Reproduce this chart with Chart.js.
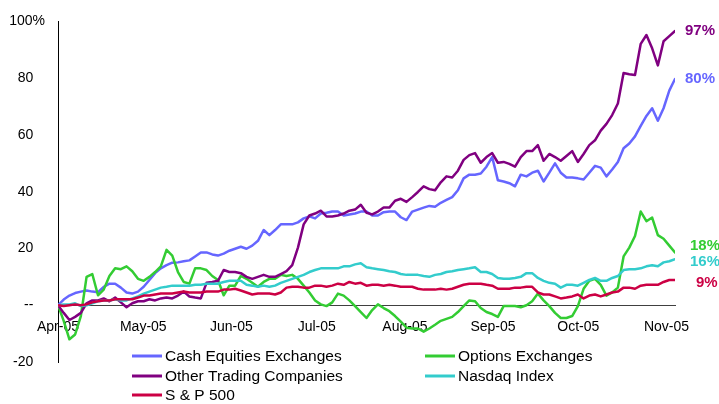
<!DOCTYPE html>
<html><head><meta charset="utf-8">
<script src="https://cdn.jsdelivr.net/npm/chart.js@4.4.1/dist/chart.umd.min.js"></script>
<style>html,body{margin:0;padding:0;background:#fff;}canvas{display:block;}</style>
</head><body>
<canvas id="c" width="719" height="404"></canvas>
<script>
// ---- axis / category data ----
const monthLabels = ['Apr-05','May-05','Jun-05','Jul-05','Aug-05','Sep-05','Oct-05','Nov-05'];
const monthDays   = [0, 30, 61, 91, 122, 153, 183, 214];   // days since 1-Apr-05
const spanDays    = 217;                                    // 1-Apr-05 .. 4-Nov-05
const yTickValues = [-20, 0, 20, 40, 60, 80, 100];
const seriesNames = ['Cash Equities Exchanges','Options Exchanges','Other Trading Companies','Nasdaq Index','S & P 500'];
const endLabels   = ['80%','18%','97%','16%','9%'];

// ---- series values (% change since April 2005), sampled evenly across the period ----
const cashEquities = [
  0, 2, 3.4, 4.3, 4.8, 5.2, 4.8, 4.6, 6.5, 7.6,
  7.6, 6.2, 4.5, 4.1, 4.8, 6.5, 8.9, 11.3, 13, 14.1,
  15, 15.1, 15.5, 15.8, 17.2, 18.6, 18.6, 17.9, 17.5, 18.2,
  19.2, 19.9, 20.6, 19.9, 21, 22.7, 26.5, 24.7, 26.5, 28.5,
  28.5, 28.5, 29.2, 30.6, 31.3, 30.6, 32.3, 32.6, 33, 33,
  31.6, 32, 32.3, 33, 33, 31.6, 31.6, 32.8, 33, 33,
  31, 30, 33, 33.7, 34.4, 35, 34.7, 36.1, 37.1, 38.1,
  40.5, 44.7, 46, 46, 46.4, 48.8, 52.2, 44, 43.6, 43,
  41.9, 46, 45.4, 46.7, 47.4, 43.6, 46.7, 50, 46.7, 45,
  45, 44.7, 44.3, 46.7, 49.1, 48.5, 45.4, 47.8, 50.5, 55.3,
  57, 59.5, 63.2, 66.7, 69.4, 65, 69.4, 75.6, 79.7
];
const optionsExchanges = [
  0, -5.5, -12, -10.3, -3.8, 10, 11, 3.5, 5.5, 10.3,
  13, 12.7, 13.7, 12, 9.3, 8.6, 10, 11.7, 13.7, 19.5,
  17.5, 11.7, 8.2, 7.6, 13, 13, 12.4, 10.3, 8.9, 3.5,
  6.9, 6.9, 10.3, 9.3, 7.9, 6.5, 8.2, 9.3, 9.3, 10.7,
  10.3, 10.7, 9.3, 6.9, 4.5, 1.7, 0.3, -0.3, 1, 4.1,
  3.4, 1.7, -0.3, -2.4, -4.5, -1.7, 0.3, -1, -2.1, -3.8,
  -5.8, -7.9, -8.2, -8.2, -9.3, -8.2, -6.9, -5.5, -4.8, -4.1,
  -2.4, -0.3, 1.7, 1.4, -1, -2.4, -3.1, -4.1, -0.3, -0.3,
  -0.3, -0.7, 0, 1.4, 4.1, 1.7, -0.3, -2.7, -4.5, -4.5,
  -3.8, -0.3, 5.8, 8.6, 9.3, 7.2, 3.4, 4.5, 6.2, 17.2,
  20.3, 24.4, 33, 29.6, 30.9, 24.7, 23.4, 21, 18.6
];
const otherTrading = [
  0, -2.7, -5.2, -4.1, -2.7, 0.7, 1.7, 1.7, 2.4, 1.4,
  2.7, 1, -0.7, 0.7, 1.4, 1.4, 2.1, 1.7, 2.4, 2.7,
  2.4, 3.4, 4.8, 3.1, 2.7, 2.4, 7.9, 8.2, 8.6, 12.4,
  11.7, 11.7, 11.3, 10, 9.3, 10, 10.7, 10, 10, 11,
  12, 14.1, 20.3, 28.5, 31.6, 32.3, 33.3, 31.3, 31.3, 31.6,
  32.3, 33.3, 33.7, 35.4, 32.6, 32, 33, 34.4, 34.4, 36.8,
  37.5, 36.4, 38.1, 39.9, 41.9, 40.9, 40.5, 43.3, 45.4, 45,
  47.4, 51.2, 52.9, 53.6, 50.2, 52.2, 53.6, 50.2, 50.5, 49.8,
  48.8, 52.2, 54.3, 54.3, 56.4, 50.9, 53.3, 52.2, 50.9, 52.6,
  54.3, 50.5, 53.3, 56.4, 58.1, 61.5, 63.9, 67, 71.1, 81.8,
  81.4, 81.1, 92.1, 95.2, 90.5, 84.5, 93, 94.8, 96.6
];
const nasdaqIndex = [
  0, 0.3, 0.3, 0.7, -0.3, 0, 0.7, 1.4, 1.7, 1.7,
  2.1, 1.7, 1.7, 2.4, 3.1, 4.1, 4.8, 5.5, 6.2, 6.5,
  6.9, 6.9, 6.9, 6.9, 7.2, 7.2, 7.6, 7.6, 7.6, 8.2,
  8.6, 8.6, 8.6, 7.2, 6.9, 6.5, 6.9, 6.5, 6.9, 7.9,
  8.6, 9.3, 10, 10.7, 11.7, 12.4, 13, 13, 13, 13,
  13.7, 13.7, 14.4, 14.8, 13.4, 13, 12.7, 12.4, 12, 11.7,
  11, 10.7, 10.7, 10.7, 10.3, 10, 10.7, 11, 11.7, 12,
  12.4, 12.7, 13, 13.4, 11.7, 11.7, 11, 9.6, 9.3, 9.3,
  9.6, 10, 11.3, 11.3, 9.6, 8.6, 7.9, 7.6, 6.2, 7.2,
  7.2, 6.9, 7.9, 8.9, 9.6, 8.6, 8.6, 9.6, 10.3, 12.4,
  12.7, 12.7, 13, 13.7, 14.1, 13.7, 15.1, 15.5, 16.2
];
const sp500 = [
  0, -0.3, 0, 0.3, 0, 0.3, 1, 1.4, 1.7, 1.7,
  2.1, 2.1, 2.1, 2.1, 2.7, 3.4, 3.4, 3.8, 4.1, 4.1,
  4.1, 4.5, 4.8, 4.5, 4.5, 4.5, 4.8, 4.8, 4.8, 5.5,
  5.5, 5.8, 5.2, 4.5, 3.8, 4.1, 4.1, 4.1, 3.8, 4.5,
  6.2, 6.5, 6.5, 6.2, 6.2, 6.9, 6.9, 6.5, 6.9, 7.6,
  7.2, 8.2, 7.6, 7.9, 6.9, 7.2, 7.2, 6.9, 7.2, 6.9,
  6.5, 6.5, 6.5, 5.8, 5.5, 5.5, 5.5, 5.8, 5.5, 5.8,
  6.5, 7.2, 7.6, 7.6, 7.6, 7.2, 6.9, 5.8, 5.8, 5.8,
  6.2, 6.2, 6.5, 6.5, 4.5, 3.8, 3.8, 3.1, 2.4, 2.7,
  3.1, 3.8, 2.4, 3.4, 3.8, 3.1, 3.8, 4.5, 4.8, 6.2,
  6.2, 5.8, 6.9, 7.2, 7.2, 7.2, 8.2, 8.9, 8.9
];

// ---- styling ----
const colors = ['#6666FF', '#33CC33', '#800080', '#33CCCC', '#CC0044'];
const allSeries = [cashEquities, optionsExchanges, otherTrading, nasdaqIndex, sp500];
const FONT = '"Liberation Sans", Arial, sans-serif';

function toPoints(vals) {
  const n = vals.length;
  return vals.map((v, i) => ({ x: i * spanDays / (n - 1), y: v }));
}

const legendPlugin = {
  id: 'customLegend',
  afterDraw(chart, args, opts) {
    const ctx = chart.ctx;
    ctx.save();
    ctx.font = opts.fontSize + 'px ' + FONT;
    ctx.textBaseline = 'middle';
    ctx.textAlign = 'left';
    chart.data.datasets.forEach((ds, i) => {
      const col = i % 2, row = Math.floor(i / 2);
      const x = opts.colX[col], y = opts.rowY[row];
      ctx.strokeStyle = ds.borderColor;
      ctx.lineWidth = 3;
      ctx.beginPath();
      ctx.moveTo(x, y);
      ctx.lineTo(x + opts.swatch, y);
      ctx.stroke();
      ctx.fillStyle = '#000';
      ctx.fillText(ds.label, x + opts.swatch + 3, y + 1);
    });
    ctx.restore();
  }
};

const endLabelPlugin = {
  id: 'endLabels',
  afterDatasetsDraw(chart, args, opts) {
    const ctx = chart.ctx;
    const ys = chart.scales.y;
    ctx.save();
    ctx.font = 'bold 15px ' + FONT;
    ctx.textBaseline = 'middle';
    ctx.textAlign = 'left';
    chart.data.datasets.forEach((ds, i) => {
      const last = ds.data[ds.data.length - 1];
      const y = ys.getPixelForValue(last.y) + opts.dy[i];
      ctx.fillStyle = ds.borderColor;
      ctx.fillText(endLabels[i], opts.x[i], y);
    });
    ctx.restore();
  }
};

const datasets = allSeries.map((vals, i) => ({
  label: seriesNames[i],
  data: toPoints(vals),
  borderColor: colors[i],
  backgroundColor: colors[i],
  borderWidth: 2.5,
  pointRadius: 0,
  tension: 0,
  fill: false,
  borderJoinStyle: 'round',
  borderCapStyle: 'round',
  order: 4 - i
}));

new Chart(document.getElementById('c'), {
  type: 'line',
  data: { datasets },
  options: {
    responsive: false,
    animation: false,
    events: [],
    layout: { padding: { top: 13, right: 44, bottom: 42, left: 0 } },
    plugins: {
      legend: { display: false },
      tooltip: { enabled: false },
      customLegend: { colX: [132, 425], rowY: [356, 376, 395], swatch: 30, fontSize: 15.5 },
      endLabels: { x: [685, 690, 685, 690, 696], dy: [0, -7, 0, 3, 3] }
    },
    scales: {
      x: {
        type: 'linear',
        position: { y: 0 },
        min: 0,
        max: spanDays,
        grid: { display: false, drawTicks: false },
        border: { display: true, color: '#404040', width: 1 },
        afterBuildTicks: s => { s.ticks = monthDays.map(v => ({ value: v })); },
        ticks: {
          autoSkip: false,
          maxRotation: 0,
          padding: 14,
          color: '#000',
          font: { family: FONT, size: 14 },
          callback: v => { const k = monthDays.indexOf(v); return k >= 0 ? monthLabels[k] : ''; }
        }
      },
      y: {
        type: 'linear',
        min: -20,
        max: 100,
        grid: { display: false, drawTicks: false },
        border: { display: true, color: '#000', width: 1 },
        afterBuildTicks: s => { s.ticks = yTickValues.map(v => ({ value: v })); },
        afterFit: s => { s.width = 58; },
        ticks: {
          padding: 13,
          color: '#000',
          font: { family: FONT, size: 14 },
          callback: v => v === 100 ? '100%' : (v === 0 ? '--   ' : v + '   ')
        }
      }
    }
  },
  plugins: [legendPlugin, endLabelPlugin]
});
</script>
</body></html>
